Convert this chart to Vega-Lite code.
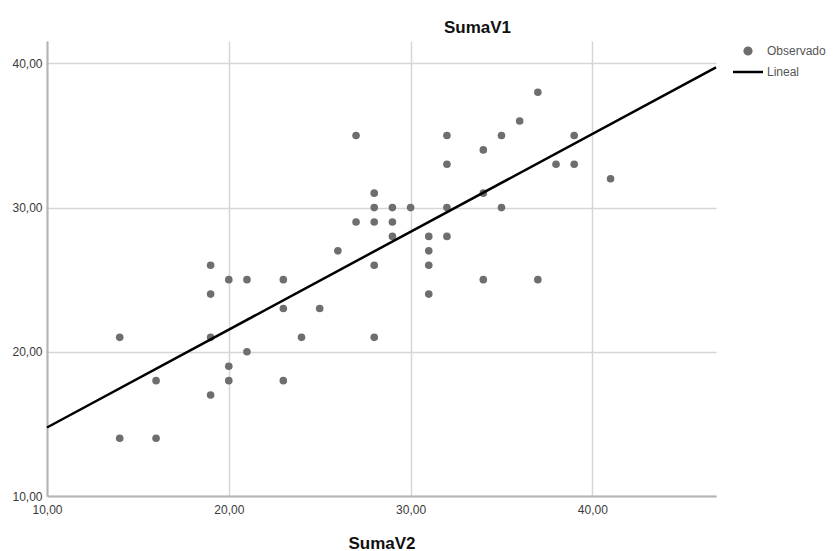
{
  "$schema": "https://vega.github.io/schema/vega-lite/v6.json",
  "width": 669,
  "height": 455,
  "autosize": {"type": "none"},
  "padding": {"left": 47, "top": 41, "right": 119, "bottom": 55},
  "background": "white",
  "config": {
    "view": {"stroke": null},
    "font": "Liberation Sans",
    "axis": {
      "domainColor": "#b4b4b4",
      "domainWidth": 2,
      "gridColor": "#d6d6d6",
      "gridWidth": 1.5,
      "ticks": false,
      "tickSize": 0,
      "labelFont": "Liberation Sans",
      "labelFontSize": 12,
      "labelColor": "#3a3a3a",
      "titleFont": "Liberation Sans",
      "titleFontSize": 17,
      "titleFontWeight": "bold",
      "titleColor": "#111111"
    }
  },
  "datasets": {
    "obs": [
      {"SumaV2": 14, "SumaV1": 21, "serie": "Observado"},
      {"SumaV2": 14, "SumaV1": 14, "serie": "Observado"},
      {"SumaV2": 16, "SumaV1": 18, "serie": "Observado"},
      {"SumaV2": 16, "SumaV1": 14, "serie": "Observado"},
      {"SumaV2": 19, "SumaV1": 26, "serie": "Observado"},
      {"SumaV2": 19, "SumaV1": 24, "serie": "Observado"},
      {"SumaV2": 19, "SumaV1": 21, "serie": "Observado"},
      {"SumaV2": 19, "SumaV1": 17, "serie": "Observado"},
      {"SumaV2": 20, "SumaV1": 25, "serie": "Observado"},
      {"SumaV2": 20, "SumaV1": 19, "serie": "Observado"},
      {"SumaV2": 20, "SumaV1": 18, "serie": "Observado"},
      {"SumaV2": 21, "SumaV1": 25, "serie": "Observado"},
      {"SumaV2": 21, "SumaV1": 20, "serie": "Observado"},
      {"SumaV2": 23, "SumaV1": 25, "serie": "Observado"},
      {"SumaV2": 23, "SumaV1": 23, "serie": "Observado"},
      {"SumaV2": 23, "SumaV1": 18, "serie": "Observado"},
      {"SumaV2": 24, "SumaV1": 21, "serie": "Observado"},
      {"SumaV2": 25, "SumaV1": 23, "serie": "Observado"},
      {"SumaV2": 26, "SumaV1": 27, "serie": "Observado"},
      {"SumaV2": 27, "SumaV1": 35, "serie": "Observado"},
      {"SumaV2": 27, "SumaV1": 29, "serie": "Observado"},
      {"SumaV2": 28, "SumaV1": 31, "serie": "Observado"},
      {"SumaV2": 28, "SumaV1": 30, "serie": "Observado"},
      {"SumaV2": 28, "SumaV1": 29, "serie": "Observado"},
      {"SumaV2": 28, "SumaV1": 26, "serie": "Observado"},
      {"SumaV2": 28, "SumaV1": 21, "serie": "Observado"},
      {"SumaV2": 29, "SumaV1": 30, "serie": "Observado"},
      {"SumaV2": 29, "SumaV1": 29, "serie": "Observado"},
      {"SumaV2": 29, "SumaV1": 28, "serie": "Observado"},
      {"SumaV2": 30, "SumaV1": 30, "serie": "Observado"},
      {"SumaV2": 31, "SumaV1": 28, "serie": "Observado"},
      {"SumaV2": 31, "SumaV1": 27, "serie": "Observado"},
      {"SumaV2": 31, "SumaV1": 26, "serie": "Observado"},
      {"SumaV2": 31, "SumaV1": 24, "serie": "Observado"},
      {"SumaV2": 32, "SumaV1": 35, "serie": "Observado"},
      {"SumaV2": 32, "SumaV1": 33, "serie": "Observado"},
      {"SumaV2": 32, "SumaV1": 30, "serie": "Observado"},
      {"SumaV2": 32, "SumaV1": 28, "serie": "Observado"},
      {"SumaV2": 34, "SumaV1": 34, "serie": "Observado"},
      {"SumaV2": 34, "SumaV1": 31, "serie": "Observado"},
      {"SumaV2": 34, "SumaV1": 25, "serie": "Observado"},
      {"SumaV2": 35, "SumaV1": 35, "serie": "Observado"},
      {"SumaV2": 35, "SumaV1": 30, "serie": "Observado"},
      {"SumaV2": 36, "SumaV1": 36, "serie": "Observado"},
      {"SumaV2": 37, "SumaV1": 38, "serie": "Observado"},
      {"SumaV2": 37, "SumaV1": 25, "serie": "Observado"},
      {"SumaV2": 38, "SumaV1": 33, "serie": "Observado"},
      {"SumaV2": 39, "SumaV1": 35, "serie": "Observado"},
      {"SumaV2": 39, "SumaV1": 33, "serie": "Observado"},
      {"SumaV2": 41, "SumaV1": 32, "serie": "Observado"}
    ],
    "fit": [
      {"SumaV2": 10, "SumaV1": 14.75, "serie": "Lineal"},
      {"SumaV2": 46.8, "SumaV1": 39.72, "serie": "Lineal"}
    ]
  },
  "encoding": {
    "x": {
      "field": "SumaV2",
      "type": "quantitative",
      "scale": {"domain": [10, 46.8], "nice": false, "zero": false},
      "axis": {
        "values": [10, 20, 30, 40],
        "labelExpr": "replace(format(datum.value, '.2f'), '.', ',')",
        "labelPadding": 8,
        "labelFlush": false,
        "title": "SumaV2",
        "titleBaseline": "middle",
        "titleY": 47
      }
    },
    "y": {
      "field": "SumaV1",
      "type": "quantitative",
      "scale": {"domain": [10, 41.55], "nice": false, "zero": false},
      "axis": {
        "values": [10, 20, 30, 40],
        "labelExpr": "replace(format(datum.value, '.2f'), '.', ',')",
        "labelPadding": 5,
        "labelFlush": false,
        "title": "SumaV1",
        "titleAngle": 0,
        "titleAlign": "center",
        "titleBaseline": "middle",
        "titleX": 430,
        "titleY": -14
      }
    },
    "color": {
      "field": "serie",
      "type": "nominal",
      "scale": {"domain": ["Observado", "Lineal"], "range": ["#6e6e6e", "#000000"]},
      "legend": {
        "title": null,
        "orient": "none",
        "legendX": 695,
        "legendY": 4,
        "symbolSize": 50,
        "labelFont": "Liberation Sans",
        "labelFontSize": 12,
        "labelColor": "#555555",
        "labelOffset": 13,
        "rowPadding": 6,
        "encode": {
          "symbols": {
            "update": {
              "shape": {"signal": "datum.value === 'Lineal' ? 'stroke' : 'circle'"},
              "size": {"signal": "datum.value === 'Lineal' ? 900 : 45"},
              "fill": {"signal": "datum.value === 'Lineal' ? 'transparent' : '#6e6e6e'"},
              "stroke": {"signal": "datum.value === 'Lineal' ? '#000000' : 'transparent'"},
              "strokeWidth": {"value": 2.5},
              "opacity": {"value": 1}
            }
          }
        }
      }
    }
  },
  "layer": [
    {
      "data": {"name": "obs"},
      "mark": {"type": "point", "filled": true, "size": 58, "opacity": 1}
    },
    {
      "data": {"name": "fit"},
      "mark": {"type": "line", "strokeWidth": 2.5}
    }
  ]
}
